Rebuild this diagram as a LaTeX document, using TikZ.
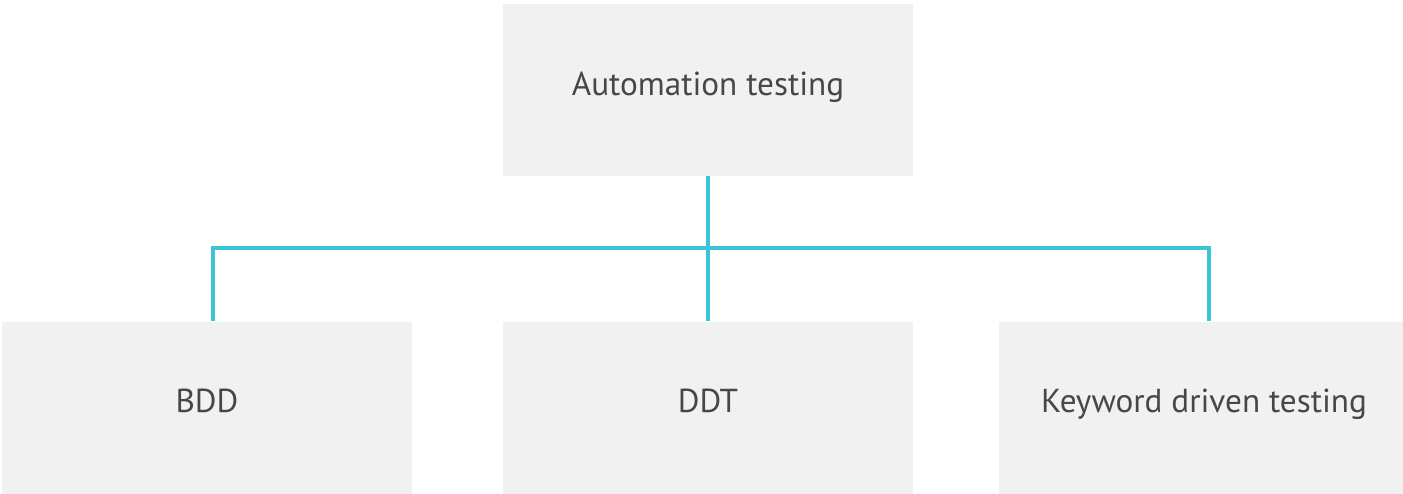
\documentclass[tikz,border=0pt]{standalone}
\usepackage{fontspec}
\setmainfont{PT Sans}
\usepackage{tikz}
\usetikzlibrary{positioning, calc}
\definecolor{boxgray}{HTML}{F1F1F1}
\definecolor{linkcyan}{HTML}{3EC4D8}
\definecolor{textgray}{HTML}{474747}

\begin{document}
\begin{tikzpicture}[x=0.5pt, y=-0.5pt, font=\fontsize{16.6}{20}\selectfont]
  \tikzset{
    topicbox/.style={fill=boxgray, minimum width=205pt, minimum height=86pt, inner sep=0pt,
      text height=8pt, text depth=3pt, text=textgray},
    link/.style={linkcyan, line width=1.6pt}
  }
  \useasboundingbox (0,0) rectangle (1403,493);
  \node[topicbox] (auto) at (708,90) {Automation testing};
  \node[topicbox] (bdd) at (207,407.5) {BDD};
  \node[topicbox] (ddt) at (708,407.5) {DDT};
  \node[topicbox] (kdt) at (1204,407.5) {Keyword driven testing};
  \coordinate (bar) at (0,248);
  % tree connectors
  \draw[link] (auto.south) -- (ddt.north);
  \draw[link] ([xshift=3pt]bdd.north) -- ([xshift=3pt]bdd.north |- bar)
    -- ([xshift=2.5pt]kdt.north |- bar) -- ([xshift=2.5pt]kdt.north);
\end{tikzpicture}
\end{document}
